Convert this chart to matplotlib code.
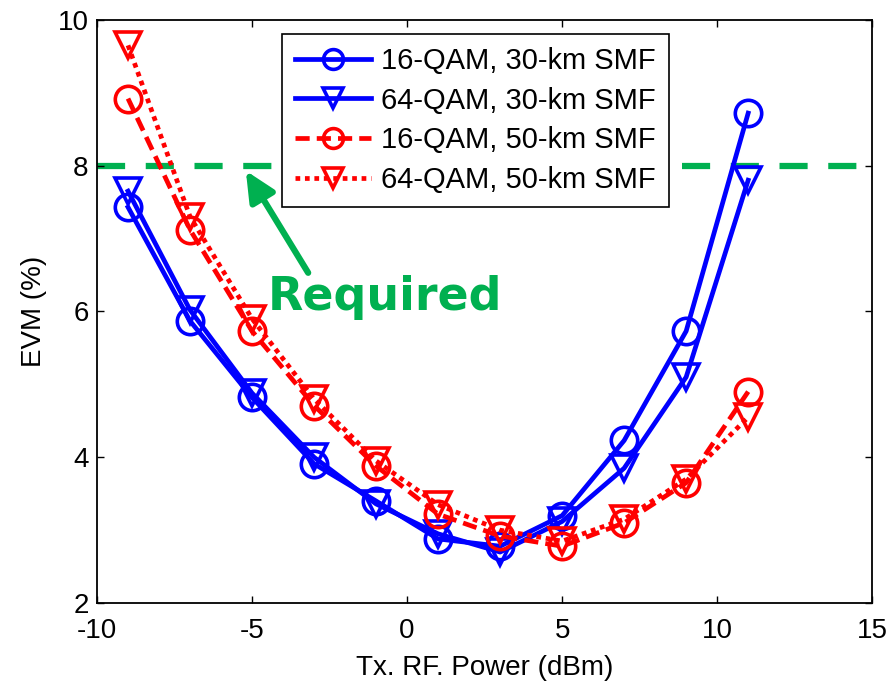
import matplotlib
matplotlib.use("Agg")
import matplotlib.pyplot as plt

plt.rcParams['font.family'] = ['Liberation Sans', 'DejaVu Sans']
plt.rcParams['axes.unicode_minus'] = False

power = [-9, -7, -5, -3, -1, 1, 3, 5, 7, 9, 11]
evm_16qam_30km = [7.43, 5.87, 4.82, 3.91, 3.40, 2.88, 2.78, 3.20, 4.23, 5.73, 8.72]
evm_64qam_30km = [7.65, 6.02, 4.88, 4.00, 3.36, 2.95, 2.70, 3.12, 3.85, 5.10, 7.80]
evm_16qam_50km = [8.92, 7.12, 5.73, 4.71, 3.88, 3.22, 2.92, 2.78, 3.10, 3.65, 4.90]
evm_64qam_50km = [9.65, 7.30, 5.90, 4.80, 3.95, 3.35, 3.00, 2.85, 3.15, 3.70, 4.55]
labels = ['16-QAM, 30-km SMF', '64-QAM, 30-km SMF', '16-QAM, 50-km SMF', '64-QAM, 50-km SMF']
required_evm = 8.0

fig = plt.figure(figsize=(8.9, 6.83), dpi=100)
ax = fig.add_axes([0.109, 0.117, 0.871, 0.854])

lw = 3.4
ms = 19
mew = 2.6
ax.plot(power, evm_16qam_30km, color='#0000ff', lw=lw, ls='-', marker='o', ms=ms,
        mfc='none', mec='#0000ff', mew=mew, label=labels[0])
ax.plot(power, evm_64qam_30km, color='#0000ff', lw=lw, ls='-', marker='v', ms=ms,
        mfc='none', mec='#0000ff', mew=mew, label=labels[1])
ax.plot(power, evm_16qam_50km, color='#ff0000', lw=lw, ls=(0, (3, 1.5)), marker='o', ms=ms,
        mfc='none', mec='#ff0000', mew=mew, label=labels[2])
ax.plot(power, evm_64qam_50km, color='#ff0000', lw=lw, ls=(0, (1, 1)), marker='v', ms=ms,
        mfc='none', mec='#ff0000', mew=mew, label=labels[3])

ax.axhline(required_evm, color='#00b050', lw=4.5, ls=(0, (4.5, 3.3)), zorder=1)

ax.annotate('', xy=(-5.2, 7.93), xytext=(-3.19, 6.53),
            arrowprops=dict(arrowstyle='-|>,head_length=1.8,head_width=0.85',
                            color='#00b050', lw=4.5, shrinkA=0, shrinkB=0))
ax.text(-4.5, 6.02, 'Required', color='#00b050', fontsize=33, fontweight='bold',
        family='DejaVu Sans', ha='left', va='baseline')

ax.set_xlim(-10, 15)
ax.set_ylim(2, 10)
ax.set_xticks([-10, -5, 0, 5, 10, 15])
ax.set_yticks([2, 4, 6, 8, 10])
ax.tick_params(direction='in', length=5, width=1, labelsize=20, top=True, right=True)
ax.tick_params(axis='x', pad=11)
ax.tick_params(axis='y', pad=6)
for s in ax.spines.values():
    s.set_linewidth(1.3)

ax.set_xlabel('Tx. RF. Power (dBm)', fontsize=20, labelpad=8)
ax.set_ylabel('EVM (%)', fontsize=20, labelpad=8)

leg = ax.legend(loc='upper left', bbox_to_anchor=(0.239, 0.976), fontsize=21,
                frameon=True, fancybox=False, edgecolor='black', framealpha=1,
                handlelength=2.6, markerscale=0.75, borderpad=0.45, labelspacing=0.4,
                handletextpad=0.35, borderaxespad=0)
leg.get_frame().set_linewidth(1.2)

fig.savefig('out.png', dpi=100)
